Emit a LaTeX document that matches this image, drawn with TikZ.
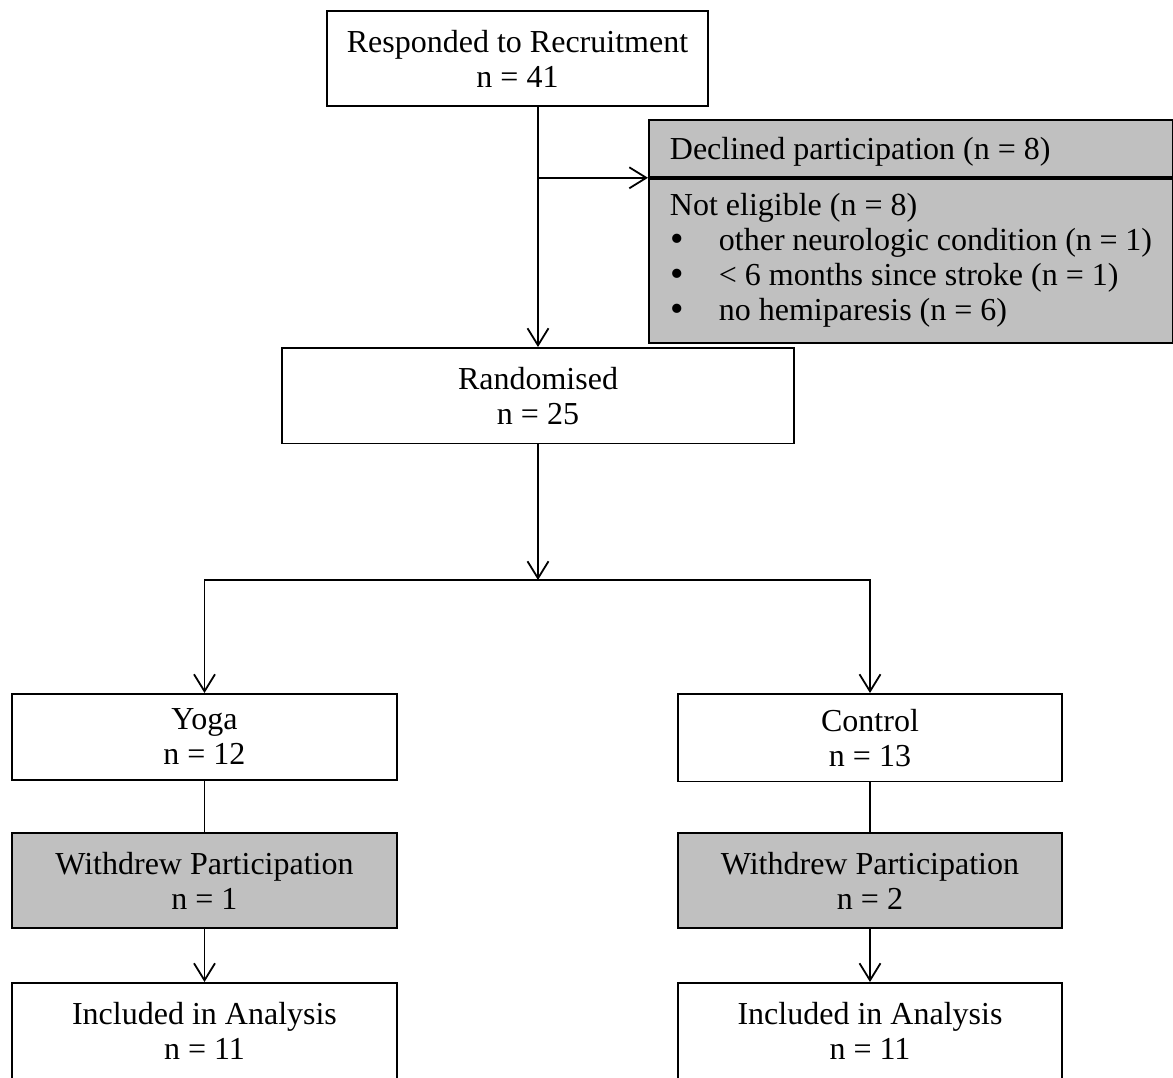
\documentclass[tikz,border=0pt]{standalone}
\usepackage{fontspec}
\setmainfont{Liberation Serif}
\usepackage{tikz}
\usetikzlibrary{arrows.meta,positioning}

\definecolor{boxgrey}{HTML}{C0C0C0}

\newcommand{\bul}{\makebox[49pt][l]{\hspace*{1pt}\raisebox{-1pt}{\scalebox{1.2}{\textbullet}}}}

\tikzset{
  box/.style = {draw, line width=1.8pt, align=center, anchor=north,
    inner xsep=0pt, inner ysep=19pt,
    font=\fontsize{32}{35}\selectfont},
  greybox/.style = {box, fill=boxgrey},
  sidebox/.style = {greybox, anchor=north west, align=flush left,
    inner xsep=21pt, text width=482pt},
  armbox/.style = {box, inner ysep=15pt},
  link/.style = {line width=1.8pt},
  arr/.style = {link, -{Straight Barb[length=17pt,width=21pt,line width=1.8pt]}}
}

\begin{document}
\begin{tikzpicture}[x=1pt,y=-1pt]

\useasboundingbox (0,0) rectangle (1173,1077);
\clip (0,0) rectangle (1173,1077);

% top of the chart
\node [box, minimum width=381pt] (recruit) at (517.5,10)
    {Responded to Recruitment\\n = 41};

\node [sidebox, inner ysep=17.5pt, text height=22pt, text depth=0pt]
    (declined) at (648,119) {Declined participation (n = 8)};
\node [sidebox, inner ysep=15pt] (noteligible) at (declined.south west)
    {Not eligible (n = 8)\\
     \bul other neurologic condition (n = 1)\\
     \bul < 6 months since stroke (n = 1)\\
     \bul no hemiparesis (n = 6)};

\node [box, minimum width=512pt] (rand) at (538,347)
    {Randomised\\n = 25};

% two arms
\node [armbox, minimum width=385pt] (yoga) at (204.5,693) {Yoga\\n = 12};
\node [armbox, minimum width=384pt] (ctrl) at (870,693) {Control\\n = 13};

\node [greybox, minimum width=385pt] (wdyoga) at (204.5,832)
    {Withdrew Participation\\n = 1};
\node [greybox, minimum width=384pt] (wdctrl) at (870,832)
    {Withdrew Participation\\n = 2};

\node [box, minimum width=385pt, text depth=40pt] (incyoga) at (204.5,982)
    {Included in Analysis\\n = 11};
\node [box, minimum width=384pt, text depth=40pt] (incctrl) at (870,982)
    {Included in Analysis\\n = 11};

% connectors
\coordinate (top) at (rand.north |- recruit.south);
\coordinate (fork) at (rand.north |- declined.south west);
\coordinate (split) at (538,580);

\draw [arr] (top) -- (rand.north);
\draw [arr] (fork) -- (declined.south west);
\draw [arr] (rand.south) -- (split);
\draw [arr] (split) -| (yoga.north);
\draw [arr] (split) -| (ctrl.north);

\draw [link] (yoga.south) -- (wdyoga.north);
\draw [link] (ctrl.south) -- (wdctrl.north);
\draw [arr] (wdyoga.south) -- (incyoga.north);
\draw [arr] (wdctrl.south) -- (incctrl.north);

\end{tikzpicture}
\end{document}
